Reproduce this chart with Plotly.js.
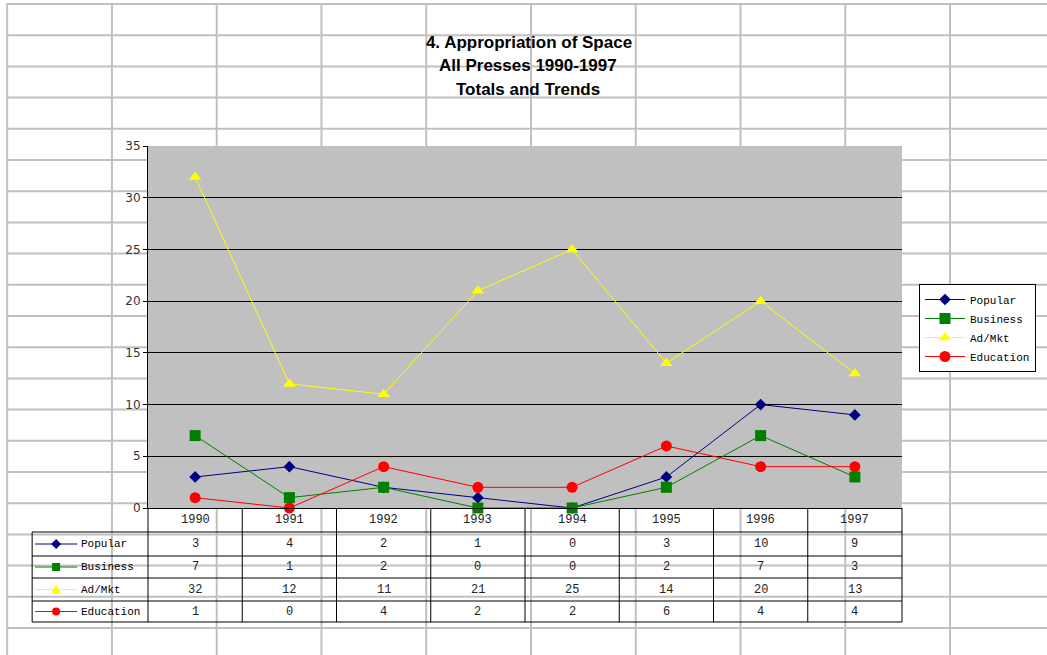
<!DOCTYPE html>
<html>
<head>
<meta charset="utf-8">
<script src="https://cdn.plot.ly/plotly-3.0.1.min.js"></script>
<style>html,body{margin:0;padding:0;background:#fff;}#chart{width:1047px;height:655px;}</style>
</head>
<body>
<div id="chart"></div>
<script>
// ---- data ----
const years = ['1990','1991','1992','1993','1994','1995','1996','1997'];
const popular   = [3, 4, 2, 1, 0, 3, 10, 9];
const business  = [7, 1, 2, 0, 0, 2, 7, 3];
const admkt     = [32, 12, 11, 21, 25, 14, 20, 13];
const education = [1, 0, 4, 2, 2, 6, 4, 4];
const seriesNames = ['Popular', 'Business', 'Ad/Mkt', 'Education'];
const seriesValues = [popular, business, admkt, education];
const yTicks = [0, 5, 10, 15, 20, 25, 30, 35];
const titleLines = ['4. Appropriation of Space', 'All Presses 1990-1997', 'Totals and Trends'];

// ---- style ----
const colors = ['#000080', '#008000', '#FFFF00', '#FF0000'];
const symbols = ['diamond', 'square', 'triangle-up', 'circle'];
const msize = [9, 11, 11, 11];
const W = 1047, H = 655;
const PL = 148, PR = 903, PT = 146, PB = 508;
const X = px => (px - PL) / (PR - PL);
const Y = py => (PB - py) / (PB - PT);
const monoFont = 'Liberation Mono, Courier New, monospace';
const titleFont = {family: 'Liberation Sans, Arial, sans-serif', size: 17, color: '#000'};
const cellFont = {family: monoFont, size: 12, color: '#222'};

const traces = seriesNames.map((name, s) => ({
  type: 'scatter', mode: 'lines+markers', name: name,
  x: years, y: seriesValues[s],
  line: {color: colors[s], width: 1},
  marker: {symbol: symbols[s], size: msize[s], color: colors[s], line: {width: 0}},
  cliponaxis: false
}));

const shapes = [];
// spreadsheet grid
for (let k = 0; k < 10; k++) {
  const px = 7 + 104.9 * k;
  shapes.push({type: 'line', xref: 'paper', yref: 'paper', x0: X(px), x1: X(px), y0: Y(3), y1: Y(H + 5),
    line: {color: '#c0c0c0', width: 2}, layer: 'below'});
}
for (let k = 0; k < 21; k++) {
  const py = 4 + 31.2 * k;
  if (py > H) break;
  shapes.push({type: 'line', xref: 'paper', yref: 'paper', x0: X(7), x1: X(W + 5), y0: Y(py), y1: Y(py),
    line: {color: '#c0c0c0', width: 2}, layer: 'below'});
}
// gray plot area
shapes.push({type: 'rect', xref: 'x domain', yref: 'y domain', x0: 0, x1: 1, y0: 0, y1: 1,
  fillcolor: '#c0c0c0', line: {width: 0}, layer: 'below'});

// data table
const rowEdges = [508, 532, 556, 578, 601, 622];
const rowMid = i => (rowEdges[i] + rowEdges[i + 1]) / 2;
const nCat = years.length;
const colMid = i => (i + 0.5) / nCat;
for (let i = 0; i <= nCat; i++) {
  shapes.push({type: 'line', xref: 'paper', yref: 'paper', x0: i / nCat, x1: i / nCat, y0: Y(508), y1: Y(622),
    line: {color: '#000', width: 1}});
}
shapes.push({type: 'line', xref: 'paper', yref: 'paper', x0: X(32), x1: X(32), y0: Y(532), y1: Y(622),
  line: {color: '#000', width: 1}});
for (let r = 1; r < rowEdges.length; r++) {
  shapes.push({type: 'line', xref: 'paper', yref: 'paper', x0: X(32), x1: 1, y0: Y(rowEdges[r]), y1: Y(rowEdges[r]),
    line: {color: '#000', width: 1}});
}

const annotations = [];
// title lines 2 and 3
[66, 90].forEach((py, j) => {
  annotations.push({xref: 'paper', yref: 'paper', x: X(529), y: Y(py), xanchor: 'center', yanchor: 'middle',
    text: '<b>' + titleLines[j + 1] + '</b>', showarrow: false, font: titleFont});
});
// header years
years.forEach((yr, i) => {
  annotations.push({xref: 'paper', yref: 'paper', x: colMid(i), y: Y(rowMid(0)), text: yr, showarrow: false,
    xanchor: 'center', yanchor: 'middle', font: cellFont});
});
// rows
seriesNames.forEach((name, s) => {
  const cy = rowMid(s + 1);
  annotations.push({xref: 'paper', yref: 'paper', x: X(79), y: Y(cy), text: name, showarrow: false,
    xanchor: 'left', yanchor: 'middle', font: {family: monoFont, size: 11, color: '#000'}});
  seriesValues[s].forEach((v, i) => {
    annotations.push({xref: 'paper', yref: 'paper', x: colMid(i), y: Y(cy), text: String(v), showarrow: false,
      xanchor: 'center', yanchor: 'middle', font: cellFont});
  });
  // key line
  shapes.push({type: 'line', xref: 'paper', yref: 'paper', x0: X(35), x1: X(77), y0: Y(cy), y1: Y(cy),
    line: {color: colors[s], width: 1}});
  // key marker
  const cx = 56, r = 4;
  const P = (dx, dy) => X(cx + dx) + ',' + Y(cy + dy);
  let path;
  if (symbols[s] === 'diamond') path = 'M' + P(0, -r - 1) + 'L' + P(r + 1, 0) + 'L' + P(0, r + 1) + 'L' + P(-r - 1, 0) + 'Z';
  else if (symbols[s] === 'square') path = 'M' + P(-r, -r) + 'L' + P(r, -r) + 'L' + P(r, r) + 'L' + P(-r, r) + 'Z';
  else if (symbols[s] === 'triangle-up') path = 'M' + P(0, -r - 1) + 'L' + P(r + 1, r) + 'L' + P(-r - 1, r) + 'Z';
  if (path) {
    shapes.push({type: 'path', xref: 'paper', yref: 'paper', path: path, fillcolor: colors[s], line: {width: 0}});
  } else {
    shapes.push({type: 'circle', xref: 'paper', yref: 'paper', x0: X(cx - r), x1: X(cx + r), y0: Y(cy - r), y1: Y(cy + r),
      fillcolor: colors[s], line: {width: 0}});
  }
});

const layout = {
  width: W, height: H,
  margin: {l: PL, r: W - PR, t: PT, b: H - PB, pad: 0},
  paper_bgcolor: '#ffffff',
  plot_bgcolor: 'rgba(0,0,0,0)',
  title: {text: '<b>' + titleLines[0] + '</b>', xref: 'container', yref: 'container',
    x: 529 / W, y: 1 - 42 / H, xanchor: 'center', yanchor: 'middle', font: titleFont},
  xaxis: {type: 'category', categoryarray: years, range: [-0.5, nCat - 0.5], showgrid: false,
    showticklabels: false, ticks: '', showline: true, linecolor: '#000', linewidth: 1, zeroline: false, fixedrange: true},
  yaxis: {range: [0, 35], tickvals: yTicks, ticks: 'outside', ticklen: 4, tickcolor: '#000', tickwidth: 1,
    showline: true, linecolor: '#000', linewidth: 1, showgrid: true, gridcolor: '#000', gridwidth: 1,
    zeroline: false, tickfont: {family: 'DejaVu Sans, Verdana, sans-serif', size: 12, color: '#333'}, fixedrange: true},
  legend: {x: X(919), y: Y(284), xanchor: 'left', yanchor: 'top', bgcolor: '#ffffff', bordercolor: '#000', borderwidth: 1,
    font: {family: monoFont, size: 11, color: '#000'}, tracegroupgap: 0, itemwidth: 40},
  showlegend: true,
  shapes: shapes,
  annotations: annotations
};

Plotly.newPlot('chart', traces, layout, {displayModeBar: false, staticPlot: true});
</script>
</body>
</html>
